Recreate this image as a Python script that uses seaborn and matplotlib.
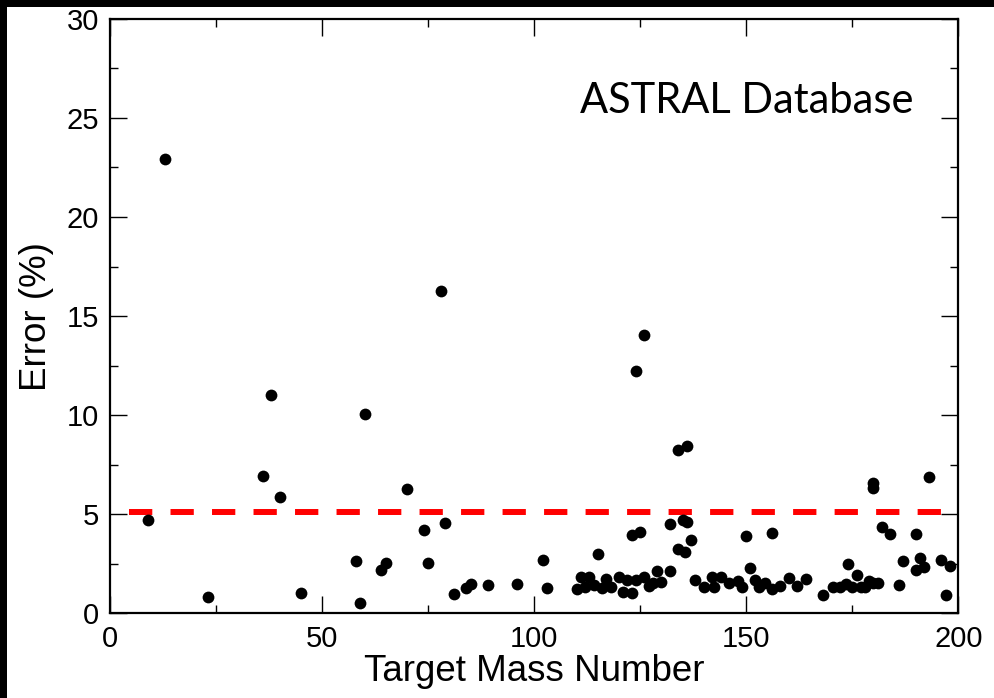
import matplotlib
matplotlib.use("Agg")
import matplotlib.pyplot as plt
from matplotlib.patches import Rectangle
from matplotlib.ticker import MultipleLocator
import seaborn as sns
import pandas as pd

# Target mass number and relative error (%) for each ASTRAL entry
mass_number = [
    9, 13, 23, 36, 38, 40, 45, 58, 59, 60, 64, 65, 70, 74, 75, 78, 79, 81, 84, 85,
    89, 96, 102, 103, 110, 111, 112, 113, 114, 115, 116, 117, 118, 120, 121, 122,
    123, 123, 124, 124, 125, 126, 126, 127, 128, 129, 130, 132, 132, 134, 134,
    135, 135.5, 136, 136, 137, 138, 140, 142, 142.5, 144, 146, 148, 149, 150, 151,
    152, 153, 154.5, 156, 156, 158, 160, 162, 164, 168, 170.5, 172, 173.5, 174,
    175, 176, 177, 178, 179, 180, 180, 180, 181, 182, 184, 186, 187, 190, 190,
    191, 192, 193, 196, 197, 198,
]
error_pct = [
    4.7, 22.9, 0.85, 6.95, 11.0, 5.9, 1.05, 2.65, 0.55, 10.05, 2.2, 2.55, 6.3, 4.2,
    2.55, 16.25, 4.55, 1.0, 1.27, 1.47, 1.44, 1.47, 2.7, 1.3, 1.22, 1.83, 1.32,
    1.86, 1.44, 3.0, 1.27, 1.72, 1.32, 1.83, 1.1, 1.69, 1.05, 3.95, 1.69, 12.23,
    4.1, 1.83, 14.03, 1.39, 1.55, 2.12, 1.6, 2.15, 4.51, 3.24, 8.27, 4.72, 3.1,
    4.6, 8.43, 3.71, 1.69, 1.32, 1.82, 1.32, 1.82, 1.55, 1.65, 1.32, 3.9, 2.31,
    1.69, 1.32, 1.55, 4.04, 1.22, 1.39, 1.78, 1.39, 1.72, 0.92, 1.35, 1.35, 1.49,
    2.5, 1.35, 1.94, 1.35, 1.35, 1.65, 1.55, 6.35, 6.6, 1.52, 4.35, 4.01, 1.44,
    2.66, 4.01, 2.19, 2.78, 2.33, 6.87, 2.7, 0.93, 2.4,
]

# 5 % reference level
threshold_x = [4.5, 196.5]
threshold_y = [5.1, 5.1]

x_ticks = [0, 50, 100, 150, 200]
y_ticks = [0, 5, 10, 15, 20, 25, 30]

df = pd.DataFrame({"mass": mass_number, "error": error_pct})
ref = pd.DataFrame({"mass": threshold_x, "error": threshold_y})

sns.set_style("ticks")
plt.rcParams["font.family"] = ["Liberation Sans", "DejaVu Sans"]
plt.rcParams["text.color"] = "black"
plt.rcParams["axes.labelcolor"] = "black"
plt.rcParams["xtick.color"] = "black"
plt.rcParams["ytick.color"] = "black"

fig = plt.figure(figsize=(9.94, 6.98), dpi=100)
fig.patch.set_facecolor("white")
ax = fig.add_axes([0.1107, 0.1211, 0.9641 - 0.1107, 0.9732 - 0.1211])

sns.lineplot(data=ref, x="mass", y="error", ax=ax, color="#ff0000",
             linewidth=4.3, dashes=False, zorder=2)
ax.lines[-1].set_dashes((3.9, 3.05))
ax.lines[-1].set_solid_capstyle("butt")
ax.lines[-1].set_dash_capstyle("butt")

sns.scatterplot(data=df, x="mass", y="error", ax=ax, color="black",
                s=72, edgecolor="black", linewidth=0, zorder=3)

ax.set_xlim(0, 200)
ax.set_ylim(0, 30)
ax.set_xticks(x_ticks)
ax.set_yticks(y_ticks)
ax.xaxis.set_minor_locator(MultipleLocator(25))
ax.yaxis.set_minor_locator(MultipleLocator(2.5))
ax.tick_params(which="both", direction="in", top=True, right=True,
               color="black", labelcolor="black", width=1.0, labelsize=21, pad=8)
ax.tick_params(which="major", length=12.5)
ax.tick_params(which="minor", length=6)
for sp in ax.spines.values():
    sp.set_visible(True)
    sp.set_linewidth(1.6)
    sp.set_color("black")

ax.set_xlabel("Target Mass Number", fontsize=26.5, labelpad=1, color="black")
ax.set_ylabel("Error (%)", fontsize=26.5, labelpad=9, color="black")

fig.text(580 / 994, 1 - 113 / 698, "ASTRAL Database", fontsize=30,
         family=["Lato", "DejaVu Sans"], va="baseline", ha="left", color="black")

# dark frame strips along the left and top edges
fig.add_artist(Rectangle((0, 0), 7 / 994, 1, transform=fig.transFigure,
                         facecolor="black", edgecolor="none", zorder=10))
fig.add_artist(Rectangle((0, 1 - 7 / 698), 1, 7 / 698, transform=fig.transFigure,
                         facecolor="black", edgecolor="none", zorder=10))

fig.savefig("out.png", dpi=100, facecolor="white")
